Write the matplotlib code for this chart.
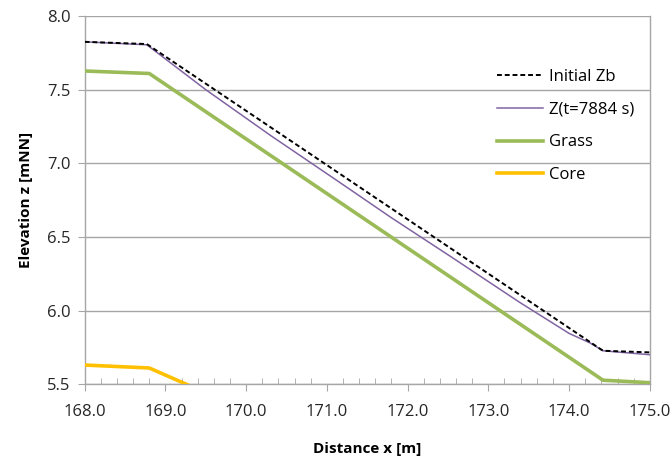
import matplotlib
matplotlib.use("Agg")
import matplotlib.pyplot as plt
from matplotlib.ticker import MultipleLocator, FormatStrFormatter

plt.rcParams['font.family'] = ['Open Sans', 'DejaVu Sans']

# Data
x_init = [168.0, 168.77, 174.42, 175.0]
z_init = [7.825, 7.81, 5.727, 5.716]

x_zt = [168.0, 168.77, 169.5, 170.3, 171.16, 171.8, 172.53, 173.39, 174.0, 174.26, 174.42, 175.0]
z_zt = [7.825, 7.805, 7.50, 7.19, 6.87, 6.63, 6.368, 6.055, 5.845, 5.78, 5.727, 5.70]

x_grass = [168.0, 168.8, 174.42, 175.0]
z_grass = [7.627, 7.61, 5.527, 5.51]

x_core = [168.0, 168.8, 169.32]
z_core = [5.63, 5.61, 5.485]

labels = ["Initial Zb", "Z(t=7884 s)", "Grass", "Core"]

fig = plt.figure(figsize=(6.72, 4.59), dpi=100)
ax = fig.add_axes([0.126, 0.163, 0.841, 0.802])

grid_c = '#a6a6a6'
ax.plot(x_init, z_init, color='black', lw=1.4, ls=(0, (2.5, 1.5)), label=labels[0], zorder=5)
ax.plot(x_zt, z_zt, color='#8064A2', lw=1.1, label=labels[1], zorder=4)
ax.plot(x_grass, z_grass, color='#9BBB59', lw=2.6, label=labels[2], zorder=3)
ax.plot(x_core, z_core, color='#FFC000', lw=2.6, label=labels[3], zorder=3)

ax.set_xlim(168.0, 175.0)
ax.set_ylim(5.5, 8.0)
ax.xaxis.set_major_locator(MultipleLocator(1.0))
ax.xaxis.set_minor_locator(MultipleLocator(0.2))
ax.yaxis.set_major_locator(MultipleLocator(0.5))
ax.xaxis.set_major_formatter(FormatStrFormatter('%.1f'))
ax.yaxis.set_major_formatter(FormatStrFormatter('%.1f'))

ax.yaxis.grid(True, color=grid_c, lw=1.0)
ax.set_axisbelow(True)
for s in ['left', 'bottom', 'right']:
    ax.spines[s].set_color(grid_c)
    ax.spines[s].set_linewidth(1.0)
ax.spines['top'].set_visible(False)

ax.tick_params(axis='x', which='major', direction='out', length=5, color=grid_c,
               labelsize=12, labelcolor='#262626', pad=9)
ax.tick_params(axis='x', which='minor', direction='in', length=4, color=grid_c)
ax.tick_params(axis='y', which='major', direction='out', length=5, color=grid_c,
               labelsize=12, labelcolor='#262626', pad=5)

ax.set_xlabel('Distance x [m]', fontsize=11, fontweight='bold', labelpad=16)
ax.set_ylabel('Elevation z [mNN]', fontsize=11, fontweight='bold', labelpad=10)

ax.legend(loc='upper left', bbox_to_anchor=(0.717, 0.874), frameon=False, fontsize=12,
          handlelength=2.8, handletextpad=0.35, labelspacing=1.0, borderaxespad=0)

fig.savefig('out.png', dpi=100)
